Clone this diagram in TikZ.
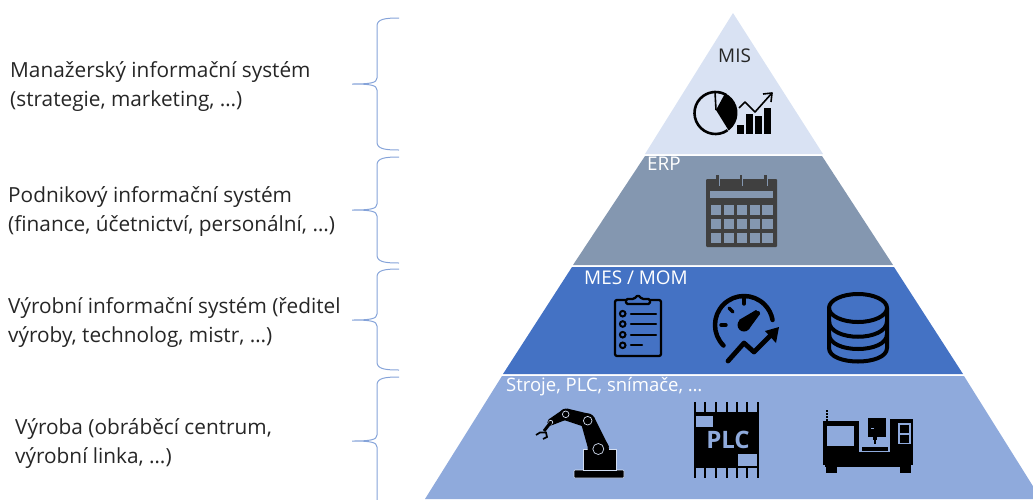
\documentclass[tikz,border=0pt]{standalone}
\usepackage{fontspec}
\setmainfont{Open Sans}
\definecolor{misblue}{HTML}{D9E2F3}
\definecolor{erpgray}{HTML}{8497B0}
\definecolor{mesblue}{HTML}{4472C4}
\definecolor{baseblue}{HTML}{8FAADC}
\definecolor{calgray}{HTML}{404040}
\newcommand\sidebrace[3]{%
	\draw[bracestyle] (399,#1) .. controls (385,#1) and (377,#1+1) .. (377,#1+8) -- (377,#2-6)
		.. controls (377,#2-1) and (370,#2) .. (352,#2)
		.. controls (370,#2) and (377,#2+1) .. (377,#2+6) -- (377,#3-8)
		.. controls (377,#3-1) and (385,#3) .. (399,#3);
}
\begin{document}
\begin{tikzpicture}[x=1pt,y=-1pt,
	sidetext/.style={anchor=west,align=left,font=\fontsize{20.8}{29}\selectfont,text=black!85,inner sep=0pt},
	leveltext/.style={anchor=west,font=\fontsize{18.9}{21}\selectfont,text=white,inner sep=0pt},
	bracestyle/.style={mesblue!65!white,line width=1pt},
	iconline/.style={black,line width=4pt,line cap=round,line join=round},
	thinline/.style={black,line width=2.3pt,line cap=round,line join=round}]
	\useasboundingbox (0,0) rectangle (1033,499);
	\clip (0,0) rectangle (1033,499);
	% pyramid
	\fill[misblue] (733,13) -- (823,154) -- (645,154) -- cycle;
	\fill[erpgray] (645,156) -- (822,156) -- (893,265) -- (573,265) -- cycle;
	\fill[mesblue] (572,267) -- (894,267) -- (963,374) -- (503,374) -- cycle;
	\fill[baseblue] (502,376) -- (964,376) -- (1041,499) -- (425,499) -- cycle;
	% braces
	\sidebrace{18}{84}{150}
	\sidebrace{157}{210}{263}
	\sidebrace{269}{320}{370}
	\sidebrace{377}{441}{540}
	% texts
	\node[sidetext] (manager) at (10,87) {Manažerský informační systém\\(strategie, marketing, …)};
	\node[sidetext] (company) at (8,212) {Podnikový informační systém\\(finance, účetnictví, personální, …)};
	\node[sidetext] (production) at (8,323) {Výrobní informační systém (ředitel\\výroby, technolog, mistr, …)};
	\node[sidetext] (machining) at (15,444) {Výroba (obráběcí centrum,\\výrobní linka, …)};
	\node[leveltext,text=black!85] (mis) at (718,56) {MIS};
	\node[leveltext] (erp) at (647,164) {ERP};
	\node[leveltext] (mes) at (584,278) {MES / MOM};
	\node[leveltext,font=\fontsize{18.5}{21}\selectfont] (stroje) at (506,387) {Stroje, PLC, snímače, …};
	% MIS icon
	\draw[black,line width=2.6pt] ([shift={(55:21)}]715.5,113) arc[start angle=55,end angle=300,radius=21];
	\draw[black,line width=1.6pt] (716,110) -- (715,92);
	\fill[black] (716,110) -- ([shift={(-64:22)}]715.5,113) arc[start angle=-64,end angle=53,radius=22] -- cycle;
	\foreach \barx/\bartop in {737/125,746/114,755/116,764/108}
		\fill[black] (\barx,\bartop) rectangle (\barx+7,134);
	\draw[black,line width=1.6pt,line join=round] (739,108) -- (745,102) -- (755,112) -- (772,93);
	\draw[black,line width=1.6pt,line join=round] (763,94) -- (772,93) -- (771,102);
	% ERP icon
	\fill[calgray,rounded corners=1pt] (706,179) rectangle (777,247);
	\fill[erpgray] (710,191) rectangle (773,198);
	\foreach \cellx in {710.5,723.5,736.5,749.5,762}
		\foreach \celly in {204.5,218.5,232.5}
			\fill[erpgray] (\cellx,\celly) rectangle (\cellx+10.5,\celly+10.5);
	\foreach \ringx in {717.5,741,765.5} {
		\draw[calgray,line width=2.6pt] (\ringx,175) -- (\ringx,186);
		\draw[erpgray,line width=.7pt] (\ringx+1.8,178) -- (\ringx+1.8,186);
	}
	% MES icons
	\draw[thinline,rounded corners=2pt] (615,300) rectangle (661,356);
	\draw[thinline,fill=mesblue,rounded corners=1.5pt] (626,304) -- (626,299) -- (634,299) -- (638,295) -- (642,299) -- (650,299) -- (650,304) -- cycle;
	\foreach \listy/\listend in {313.7/656,324/656,334.7/656,345.3/642} {
		\draw[black,line width=2pt] (622.7,\listy) circle (2.8);
		\draw[thinline] (631,\listy) -- (\listend,\listy);
	}
	\draw[iconline,line width=4.5pt] ([shift={(135:29)}]744,325) arc[start angle=135,end angle=350,radius=29];
	\draw[iconline,line width=3.4pt] (744,298) -- (744,304);
	\draw[iconline,line width=3.4pt] (729,308) -- (733,312);
	\draw[iconline,line width=3.4pt] (721,325) -- (726,325);
	\fill[black] (744,325) circle (6.5);
	\draw[black,line width=4pt,line cap=round] (746,323) -- (758,313);
	\fill[black] (739,320) -- (756,310) -- (760,314) -- (749,329) -- cycle;
	\draw[iconline,line width=4.8pt] (728,361) -- (744,343) -- (754,352) -- (772,334);
	\fill[black] (765,331) -- (779,327) -- (776,343) -- cycle;
	\draw[iconline] (858,308) ellipse (29 and 14);
	\draw[iconline] (829,308) -- (829,348) .. controls (829,366) and (887,366) .. (887,348) -- (887,308);
	\draw[iconline] (829,321) .. controls (829,342) and (887,342) .. (887,321);
	\draw[iconline] (829,334) .. controls (829,354) and (887,354) .. (887,334);
	% robot
	\fill[black,draw=white!60!baseblue,line width=.6pt,rounded corners=1pt] (574,470) rectangle (624,478);
	\fill[black,draw=white!60!baseblue,line width=.6pt] (583,449) rectangle (616,470);
	\fill[black] (581.5,425) -- (588.5,450) -- (609,447) -- (594,417) -- cycle;
	\fill[black] (590,414) -- (567,408.5) -- (564,420) -- (585,427) -- cycle;
	\fill[black] (563,409.5) -- (548.5,419.5) -- (552.5,425) -- (568,419) -- cycle;
	\foreach \jointx/\jointy/\jointr/\ringr in {598.3/449/10.7/5.5,587.7/420.7/7.3/4.3,565.7/414.3/5.7/3.3,550.7/422.3/3.3/2} {
		\fill[black] (\jointx,\jointy) circle (\jointr);
		\draw[white!60!baseblue,line width=.7pt] (\jointx,\jointy) circle (\ringr);
	}
	\draw[black,line width=3pt] (551,422) -- (544,431);
	\draw[black,line width=1.7pt] (536,435) -- (540,432.5) -- (546,432.5) -- (547,437) -- (543,439);
	% PLC
	\fill[black] (694,412) rectangle (759,468);
	\foreach \pinx in {695,705,716,727,737,747,758}
		\draw[black,line width=1.3pt] (\pinx,402) -- (\pinx,478);
	\fill[baseblue] (696,416) rectangle (713,427);
	\fill[baseblue] (738,454) rectangle (757,466);
	\node[font=\fontsize{24}{24}\selectfont\bfseries,text=baseblue,inner sep=0pt] (plc) at (728,439.5) {PLC};
	% cnc machine
	\fill[black] (823,421) rectangle (859,452);
	\fill[baseblue] (827,426) rectangle (854,446);
	\draw[black,line width=1.3pt,dash pattern=on 2pt off 1pt] (827,410) -- (827,421);
	\fill[black] (823,452) rectangle (913,465);
	\fill[black] (890,419) rectangle (913,452);
	\fill[baseblue] (898,423) rectangle (911,444);
	\fill[black] (900,425) rectangle (909,432.5);
	\fill[black] (900,434.5) rectangle (909,442.5);
	\fill[black] (826,466) rectangle (837,473);
	\fill[black] (900,466) rectangle (911,473);
	\fill[black] (825,465) rectangle (911,467);
	\fill[black] (868,418) rectangle (886,437);
	\fill[baseblue] (871,427.5) rectangle (874,429);
	\fill[black] (873,437) rectangle (877,440);
	\draw[black,line width=1.2pt] (875,440) -- (875,444);
	\fill[black] (862,447) rectangle (888,451);
\end{tikzpicture}
\end{document}
